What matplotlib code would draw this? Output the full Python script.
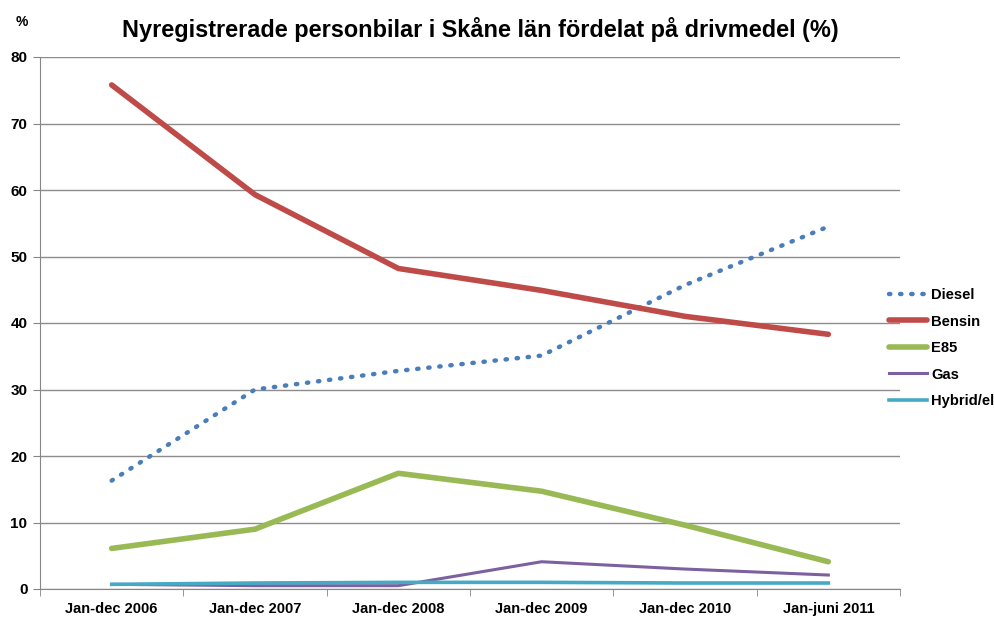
import matplotlib
matplotlib.use('Agg')
import matplotlib.pyplot as plt
import numpy as np

plt.rcParams['font.family'] = ['Liberation Sans', 'DejaVu Sans']
plt.rcParams['font.weight'] = 'bold'

periods = ['Jan-dec 2006', 'Jan-dec 2007', 'Jan-dec 2008', 'Jan-dec 2009',
           'Jan-dec 2010', 'Jan-juni 2011']
diesel = [16.3, 30.0, 32.8, 35.1, 45.7, 54.5]
bensin = [75.8, 59.3, 48.2, 44.9, 41.0, 38.3]
e85 = [6.1, 9.0, 17.4, 14.7, 9.6, 4.1]
gas = [0.7, 0.5, 0.5, 4.1, 3.0, 2.1]
hybrid = [0.7, 0.9, 1.0, 1.0, 0.9, 0.9]

fig = plt.figure(figsize=(9.95, 6.17), dpi=100)
ax = fig.add_axes([40 / 995, 1 - 589 / 617, 860 / 995, 532 / 617])

x = np.arange(len(periods))
ax.plot(x, diesel, color='#4A7EBB', lw=3.2, ls=(0, (0.3, 2.2)),
        dash_capstyle='round', label='Diesel')
ax.plot(x, bensin, color='#BE4B48', lw=4.0, solid_joinstyle='round',
        solid_capstyle='round', label='Bensin')
ax.plot(x, e85, color='#98B954', lw=4.0, solid_joinstyle='round',
        solid_capstyle='round', label='E85')
ax.plot(x, gas, color='#7D60A0', lw=2.2, solid_joinstyle='round', label='Gas')
ax.plot(x, hybrid, color='#46AAC5', lw=2.6, solid_joinstyle='round', label='Hybrid/el')

ax.set_xlim(-0.5, len(periods) - 0.5)
ax.set_ylim(0, 80)
ax.set_yticks(range(0, 81, 10))
ax.set_xticks(x)
ax.set_xticklabels(periods, fontsize=10.5, fontweight='bold')
for lab in ax.get_xticklabels():
    lab.set_va('baseline')
ax.set_xticks(np.arange(-0.5, len(periods)), minor=True)
ax.tick_params(axis='x', which='major', length=0, pad=17)
ax.tick_params(axis='x', which='minor', length=5, color='#868686')
ax.tick_params(axis='y', length=5, color='#868686', labelsize=11, pad=4)
for lab in ax.get_yticklabels():
    lab.set_fontweight('bold')

ax.grid(axis='y', color='#8c8c8c', lw=1)
ax.set_axisbelow(True)
for s in ['top', 'right']:
    ax.spines[s].set_visible(False)
for s in ['left', 'bottom']:
    ax.spines[s].set_color('#868686')

fig.text(22 / 995, 1 - 22 / 617, '%', fontsize=10, fontweight='bold',
         ha='center', va='center')
fig.text(480 / 995, 1 - 29 / 617,
         'Nyregistrerade personbilar i Skåne län fördelat på drivmedel (%)',
         fontsize=16.9, fontweight='bold', ha='center', va='center')

leg = ax.legend(loc='upper left', bbox_to_anchor=((889 - 40) / 860, 1 - (288 - 57) / 532),
                frameon=False, fontsize=10.6, handlelength=2.6, handletextpad=0.25,
                labelspacing=0.85, borderaxespad=0, borderpad=0)
for t in leg.get_texts():
    t.set_fontweight('bold')

fig.savefig('out.png', dpi=100)
